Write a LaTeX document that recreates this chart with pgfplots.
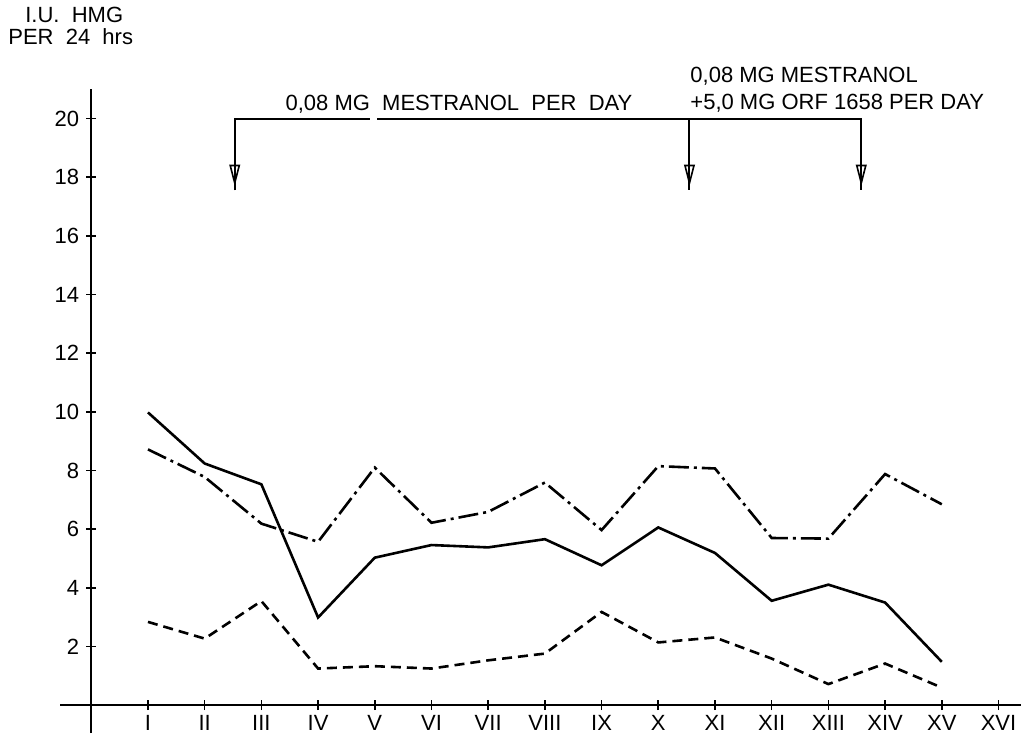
\documentclass[border=0pt]{standalone}
\usepackage{fontspec}
\setmainfont{Liberation Sans}
\usepackage{pgfplots}
\pgfplotsset{compat=1.18}
\begin{document}
\begin{tikzpicture}
\begin{axis}[
  scale only axis,
  width=480.5pt, height=322pt,
  xmin=-0.55, xmax=16.4, ymin=-0.955, ymax=21,
  axis lines=middle,
  axis line style={-, line width=1pt},
  xtick={1,...,16},
  xticklabels={I,II,III,IV,V,VI,VII,VIII,IX,X,XI,XII,XIII,XIV,XV,XVI},
  ytick={2,4,...,20},
  tick style={black, line width=0.8pt},
  major tick length=5pt,
  tick align=center,
  /pgf/number format/assume math mode=true,
  ticklabel style={font=\fontsize{11}{13}\selectfont},
  xticklabel style={yshift=1pt},
  clip=false,
]
% invisible frame to fix picture extent
\path (axis cs:-1.61,24.04) rectangle (axis cs:16.45,-0.955);

% dash-dot series
\addplot[black, line width=1.3pt, dash pattern=on 10pt off 2.5pt on 1.5pt off 2.5pt] coordinates {
(1,8.72) (2,7.78) (3,6.19) (4,5.57) (5,8.10) (6,6.22) (7,6.59) (8,7.59)
(9,5.97) (10,8.15) (11,8.07) (12,5.70) (13,5.68) (14,7.88) (15,6.85)};
% solid series
\addplot[black, line width=1.3pt] coordinates {
(1,9.98) (2,8.24) (3,7.53) (4,2.99) (5,5.03) (6,5.46) (7,5.38) (8,5.66)
(9,4.77) (10,6.06) (11,5.19) (12,3.56) (13,4.11) (14,3.50) (15,1.48)};
% dashed series
\addplot[black, line width=1.3pt, dash pattern=on 5pt off 3pt] coordinates {
(1,2.84) (2,2.27) (3,3.55) (4,1.25) (5,1.33) (6,1.25) (7,1.53) (8,1.76)
(9,3.18) (10,2.14) (11,2.31) (12,1.59) (13,0.72) (14,1.42) (15,0.60)};

% treatment bracket
\draw[line width=1pt] (axis cs:2.53,17.55) -- (axis cs:2.53,20) -- (axis cs:4.92,20);
\draw[line width=1pt] (axis cs:5.04,20) -- (axis cs:13.58,20) -- (axis cs:13.58,17.55);
\draw[line width=1pt] (axis cs:10.55,20) -- (axis cs:10.55,17.55);
\draw[line width=0.8pt] (axis cs:2.45,18.4) -- (axis cs:2.61,18.4) -- (axis cs:2.53,17.8) -- cycle;
\draw[line width=0.8pt] (axis cs:10.47,18.4) -- (axis cs:10.63,18.4) -- (axis cs:10.55,17.8) -- cycle;
\draw[line width=0.8pt] (axis cs:13.50,18.4) -- (axis cs:13.66,18.4) -- (axis cs:13.58,17.8) -- cycle;

\node[anchor=base west, inner sep=0pt, font=\fontsize{11}{13}\selectfont] at (axis cs:3.42,20.29) {0,08 MG\ \ MESTRANOL\ \ PER\ \ DAY};
\node[anchor=base west, inner sep=0pt, font=\fontsize{11}{13}\selectfont] at (axis cs:10.56,21.24) {0,08 MG MESTRANOL};
\node[anchor=base west, inner sep=0pt, font=\fontsize{11}{13}\selectfont] at (axis cs:10.56,20.32) {+5,0 MG ORF 1658 PER DAY};
\node[anchor=base west, inner sep=0pt, font=\fontsize{11}{13}\selectfont] at (axis cs:-1.17,23.29) {I.U.\ \ HMG};
\node[anchor=base west, inner sep=0pt, font=\fontsize{11}{13}\selectfont] at (axis cs:-1.47,22.54) {PER\ \ 24\ \ hrs};
\end{axis}
\end{tikzpicture}
\end{document}
